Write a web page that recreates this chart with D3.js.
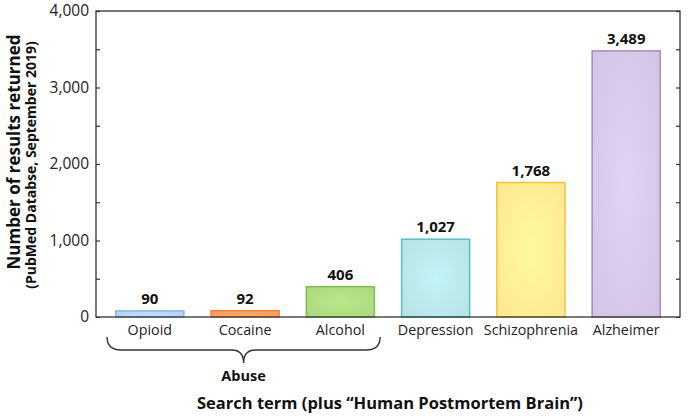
<!DOCTYPE html>
<html><head><meta charset="utf-8">
<script src="https://cdn.jsdelivr.net/npm/d3@7"></script>
<style>
html,body{margin:0;padding:0;background:#fff;}
svg{display:block;font-family:"Open Sans","Noto Sans",sans-serif;}
</style></head>
<body><svg id="c" width="688" height="417"></svg>
<script>
const categories = ["Opioid","Cocaine","Alcohol","Depression","Schizophrenia","Alzheimer"];
const values = [90, 92, 406, 1027, 1768, 3489];
const valueLabels = ["90","92","406","1,027","1,768","3,489"];
const fillColors = ["#b4d0f0","#f99c5e","#acd77f","#b5e2e5","#fce891","#d2c4e3"];
const edgeColors = ["#8fb4e2","#f2813e","#7dbd4b","#52c2c9","#f4c036","#a68bc9"];
const yTicks = [0, 1000, 2000, 3000, 4000];
const yMinor = [500, 1500, 2500, 3500];
const groupLabel = "Abuse";
const groupMembers = ["Opioid","Cocaine","Alcohol"];

const svg = d3.select("#c");
const L = 96, R = 680, T = 11, B = 317;
const x = d3.scaleBand().domain(categories).range([L, R]).paddingInner(0.27).paddingOuter(0.2);
const y = d3.scaleLinear().domain([0, 4000]).range([B, T]);

const defs = svg.append("defs");
categories.forEach((c, i) => {
  const g = defs.append("radialGradient").attr("id", "g" + i).attr("cx", "50%").attr("cy", "50%").attr("r", "70%");
  g.append("stop").attr("offset", "0%").attr("stop-color", d3.color(fillColors[i]).brighter(0.2));
  g.append("stop").attr("offset", "100%").attr("stop-color", fillColors[i]);
});

// bars
svg.selectAll("rect.bar").data(values).join("rect")
  .attr("class", "bar")
  .attr("x", (d, i) => x(categories[i]) + 0.75)
  .attr("y", d => y(d) + 0.75)
  .attr("width", x.bandwidth() - 1.5)
  .attr("height", d => B - y(d) - 0.75)
  .attr("fill", (d, i) => "url(#g" + i + ")")
  .attr("stroke", (d, i) => edgeColors[i])
  .attr("stroke-width", 1.5);

// value labels
svg.selectAll("text.val").data(values).join("text")
  .attr("class", "val")
  .attr("x", (d, i) => x(categories[i]) + x.bandwidth() / 2)
  .attr("y", d => y(d) - 6)
  .attr("text-anchor", "middle")
  .attr("font-weight", "bold").attr("font-size", 15).attr("fill", "#111")
  .text((d, i) => valueLabels[i]);

// frame
svg.append("rect").attr("x", L).attr("y", T).attr("width", R - L).attr("height", B - T)
  .attr("fill", "none").attr("stroke", "#333").attr("stroke-width", 1.3);

// left axis (inward ticks)
const yAxL = d3.axisLeft(y).tickValues(yTicks.concat(yMinor)).tickSize(-4)
  .tickFormat(d => yTicks.includes(d) ? d3.format(",")(d) : "").tickPadding(7);
const gL = svg.append("g").attr("transform", `translate(${L},0)`).call(yAxL);
gL.select(".domain").remove();
gL.selectAll("line").attr("stroke", "#333").attr("stroke-width", 1.2);
gL.selectAll("text").attr("font-size", 15.5).attr("fill", "#222").attr("font-family", '"Open Sans",sans-serif');

const yAxR = d3.axisRight(y).tickValues(yTicks.concat(yMinor)).tickSize(-4).tickFormat("");
const gR = svg.append("g").attr("transform", `translate(${R},0)`).call(yAxR);
gR.select(".domain").remove();
gR.selectAll("line").attr("stroke", "#333").attr("stroke-width", 1.2);

// x axis labels
const xAx = d3.axisBottom(x).tickSize(0).tickPadding(8);
const gX = svg.append("g").attr("transform", `translate(0,${B})`).call(xAx);
gX.select(".domain").remove();
gX.selectAll("text").attr("font-size", 14.3).attr("fill", "#222").attr("font-family", '"Open Sans",sans-serif');

// brace
const bx0 = x(groupMembers[0]) - 8, bx1 = x(groupMembers[2]) + x.bandwidth() + 5;
const bm = (bx0 + bx1) / 2, by0 = 337, by1 = 350, byt = 363;
const bracePath = `M${bx0},${by0} Q${bx0},${by1} ${bx0 + 14},${by1} L${bm - 12},${by1} Q${bm},${by1} ${bm},${byt} Q${bm},${by1} ${bm + 12},${by1} L${bx1 - 14},${by1} Q${bx1},${by1} ${bx1},${by0}`;
svg.append("path").attr("d", bracePath).attr("fill", "none").attr("stroke", "#333").attr("stroke-width", 1.4);
svg.append("text").attr("x", bm).attr("y", 381).attr("text-anchor", "middle")
  .attr("font-weight", "bold").attr("font-size", 14.5).attr("fill", "#111").text(groupLabel);

// axis titles
svg.append("text").attr("x", (L + R) / 2 + 2).attr("y", 409).attr("text-anchor", "middle")
  .attr("font-weight", "bold").attr("font-size", 16.5).attr("fill", "#111")
  .text("Search term (plus \u201CHuman Postmortem Brain\u201D)");
svg.append("text").attr("transform", "translate(20,152) rotate(-90)").attr("text-anchor", "middle")
  .attr("font-weight", "bold").attr("font-size", 17).attr("fill", "#111")
  .text("Number of results returned");
svg.append("text").attr("transform", "translate(36,165) rotate(-90)").attr("text-anchor", "middle")
  .attr("font-weight", "bold").attr("font-size", 14).attr("fill", "#111")
  .text("(PubMed Databse, September 2019)");
</script></body></html>
